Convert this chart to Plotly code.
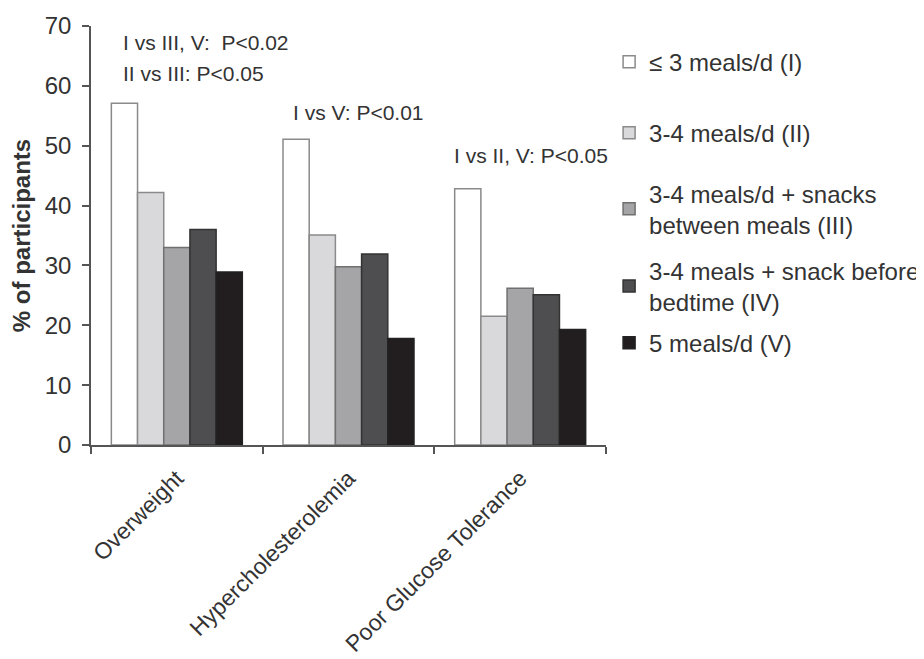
import plotly.graph_objects as go

categories = ["Overweight", "Hypercholesterolemia", "Poor Glucose Tolerance"]
series_names = [
    "≤ 3 meals/d (I)",
    "3-4 meals/d (II)",
    "3-4 meals/d + snacks<br>between meals (III)",
    "3-4 meals + snack before<br>bedtime (IV)",
    "5 meals/d (V)",
]
values_I = [57.1, 51.1, 42.8]
values_II = [42.2, 35.1, 21.5]
values_III = [33.0, 29.8, 26.2]
values_IV = [36.0, 31.9, 25.1]
values_V = [28.9, 17.8, 19.3]
y_ticks = [0, 10, 20, 30, 40, 50, 60, 70]
annotations_text = [
    "I vs III, V:  P<0.02",
    "II vs III: P<0.05",
    "I vs V: P<0.01",
    "I vs II, V: P<0.05",
]

all_values = [values_I, values_II, values_III, values_IV, values_V]
fills = ["#ffffff", "#d9d9db", "#a5a5a8", "#4e4e50", "#221e1f"]
lines = ["#8a8a8a", "#8a8a8a", "#707070", "#333333", "#222222"]
legend_ids = ["legend", "legend2", "legend3", "legend4", "legend5"]
legend_y = [0.914, 0.744, 0.563, 0.379, 0.243]

FONT = "Liberation Sans, Arial, sans-serif"
TXT = "#333333"

fig = go.Figure()
for name, vals, fc, lc, lid in zip(series_names, all_values, fills, lines, legend_ids):
    fig.add_trace(go.Bar(
        x=categories, y=vals, name=name,
        marker=dict(color=fc, line=dict(color=lc, width=1.5)),
        legend=lid, showlegend=True,
    ))

legend_layout = {}
for lid, ly in zip(legend_ids, legend_y):
    legend_layout[lid] = dict(
        x=1.006, xanchor="left", y=ly, yanchor="middle",
        font=dict(family=FONT, size=24, color=TXT),
        bgcolor="rgba(0,0,0,0)", itemclick=False, visible=True,
    )

ann = []
ann_pos = [(0.058, 67.3), (0.058, 62.1), (0.388, 55.5), (0.701, 48.4)]
for t, (ax, ay) in zip(annotations_text, ann_pos):
    ann.append(dict(
        text=t, xref="paper", yref="y", x=ax, y=ay,
        xanchor="left", yanchor="middle", showarrow=False,
        font=dict(family=FONT, size=21, color=TXT),
    ))

fig.update_layout(
    width=916, height=651,
    margin=dict(l=83, r=318, t=18, b=214, autoexpand=False),
    paper_bgcolor="white", plot_bgcolor="white",
    barmode="group", bargap=0.237, bargroupgap=0,
    showlegend=True,
    annotations=ann,
    **legend_layout,
)
fig.update_xaxes(
    showline=True, linecolor="#555555", linewidth=1.5,
    ticks="outside", tickson="boundaries", ticklen=7, tickcolor="#555555", tickwidth=1.5,
    tickangle=-45, tickfont=dict(family=FONT, size=23, color=TXT), ticklabelstandoff=9,
    showgrid=False, automargin=False,
)
fig.update_yaxes(
    range=[0, 70], tickvals=y_ticks, showline=True, linecolor="#555555", linewidth=1.5,
    ticks="outside", ticklen=7, tickcolor="#555555", tickwidth=1.5, ticklabelstandoff=6,
    tickfont=dict(family=FONT, size=24, color=TXT), showgrid=False, zeroline=False,
    automargin=False,
    title=dict(text="<b>% of participants</b>", font=dict(family=FONT, size=24, color=TXT), standoff=8),
)

fig.write_html("out.html")
